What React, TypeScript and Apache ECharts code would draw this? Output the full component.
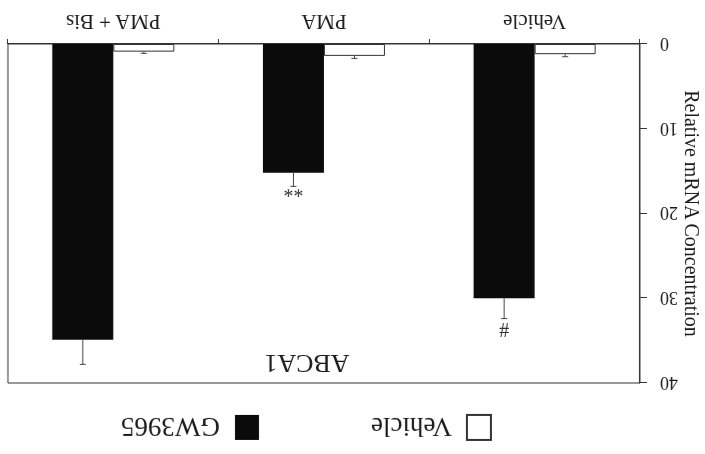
import React, { useEffect, useRef } from "react";
import * as echarts from "echarts";

const categories = ["Vehicle", "PMA", "PMA + Bis"];
const seriesNames = ["Vehicle", "GW3965"];
const vehicleValues = [1.2, 1.4, 0.9];
const vehicleUpper = [1.5, 1.7, 1.1];
const gwValues = [30.0, 15.2, 34.9];
const gwUpper = [32.4, 16.8, 37.8];
const gwMarks = ["#", "**", ""];
const chartTitle = "ABCA1";
const yAxisName = "Relative mRNA Concentration";

const FONT = "'Liberation Serif', 'Times New Roman', serif";
const BAR_W = 61;

function errorSeries(values: number[], upper: number[], marks: string[], sign: number) {
  return {
    type: "custom",
    coordinateSystem: "cartesian2d",
    z: 10,
    silent: true,
    data: values.map((v, i) => [i, v, upper[i]]),
    encode: { x: 0, y: [1, 2] },
    renderItem: (params: any, api: any) => {
      const i = api.value(0);
      const base = api.coord([i, api.value(1)]);
      const top = api.coord([i, api.value(2)]);
      const x = base[0] + (sign * BAR_W) / 2;
      const children: any[] = [
        { type: "line", shape: { x1: x, y1: base[1], x2: x, y2: top[1] }, style: { stroke: "#444", lineWidth: 1 } },
        { type: "line", shape: { x1: x - 3, y1: top[1], x2: x + 3, y2: top[1] }, style: { stroke: "#444", lineWidth: 1 } },
      ];
      const m = marks[params.dataIndex];
      if (m) {
        const isStar = m.indexOf("*") >= 0;
        children.push({
          type: "text",
          x,
          y: top[1] - (isStar ? 4 : 11),
          style: { text: m, fontFamily: FONT, fontSize: 20, fill: "#333", align: "center", verticalAlign: "middle" },
        });
      }
      return { type: "group", children };
    },
  };
}

export default function App() {
  const ref = useRef<HTMLDivElement>(null);
  useEffect(() => {
    if (!ref.current) return;
    const chart = echarts.init(ref.current, null, { renderer: "svg" });
    chart.setOption({
      animation: false,
      backgroundColor: "#ffffff",
      textStyle: { fontFamily: FONT, color: "#1a1a1a" },
      grid: {
        left: 65,
        right: 8,
        top: 71,
        bottom: 44,
        show: true,
        borderColor: "#333",
        borderWidth: 1,
        backgroundColor: "transparent",
        containLabel: false,
        outerBoundsMode: "none",
      },
      legend: {
        data: seriesNames,
        left: 208,
        top: 8,
        icon: "rect",
        itemWidth: 24,
        itemHeight: 25,
        itemGap: 112,
        textStyle: { fontFamily: FONT, fontSize: 27, color: "#1a1a1a", padding: [0, 0, 0, 10] },
      },
      graphic: [
        {
          type: "text",
          x: 398,
          y: 90,
          style: { text: chartTitle, fontFamily: FONT, fontSize: 26, fill: "#1a1a1a", align: "center", verticalAlign: "middle" },
        },
      ],
      xAxis: {
        type: "category",
        data: categories,
        axisLine: { lineStyle: { color: "#333", width: 1 } },
        axisTick: { show: true, length: 5, lineStyle: { color: "#333" } },
        axisLabel: { fontFamily: FONT, fontSize: 21, color: "#1a1a1a", margin: 11 },
      },
      yAxis: {
        type: "value",
        min: 0,
        max: 40,
        interval: 10,
        name: yAxisName,
        nameLocation: "middle",
        nameGap: 42,
        nameMoveOverlap: false,
        nameTextStyle: { fontFamily: FONT, fontSize: 20, color: "#1a1a1a" },
        axisLine: { show: true, lineStyle: { color: "#333", width: 1 } },
        axisTick: { show: true, length: 7, lineStyle: { color: "#333" } },
        axisLabel: { fontFamily: FONT, fontSize: 18, color: "#1a1a1a", margin: 20 },
        splitLine: { show: false },
      },
      series: [
        {
          name: seriesNames[0],
          type: "bar",
          data: vehicleValues,
          barWidth: BAR_W,
          barGap: "0%",
          itemStyle: { color: "#ffffff", borderColor: "#333", borderWidth: 1 },
        },
        {
          name: seriesNames[1],
          type: "bar",
          data: gwValues,
          barWidth: BAR_W,
          barGap: "0%",
          itemStyle: { color: "#0b0b0b" },
        },
        errorSeries(vehicleValues, vehicleUpper, ["", "", ""], -1),
        errorSeries(gwValues, gwUpper, gwMarks, 1),
      ],
    });
    return () => chart.dispose();
  }, []);
  return (
    <div
      style={{
        position: "fixed",
        left: 0,
        top: 0,
        width: 705,
        height: 454,
        background: "#fff",
        transform: "rotate(180deg)",
      }}
    >
      <div ref={ref} style={{ width: 705, height: 454 }} />
    </div>
  );
}
